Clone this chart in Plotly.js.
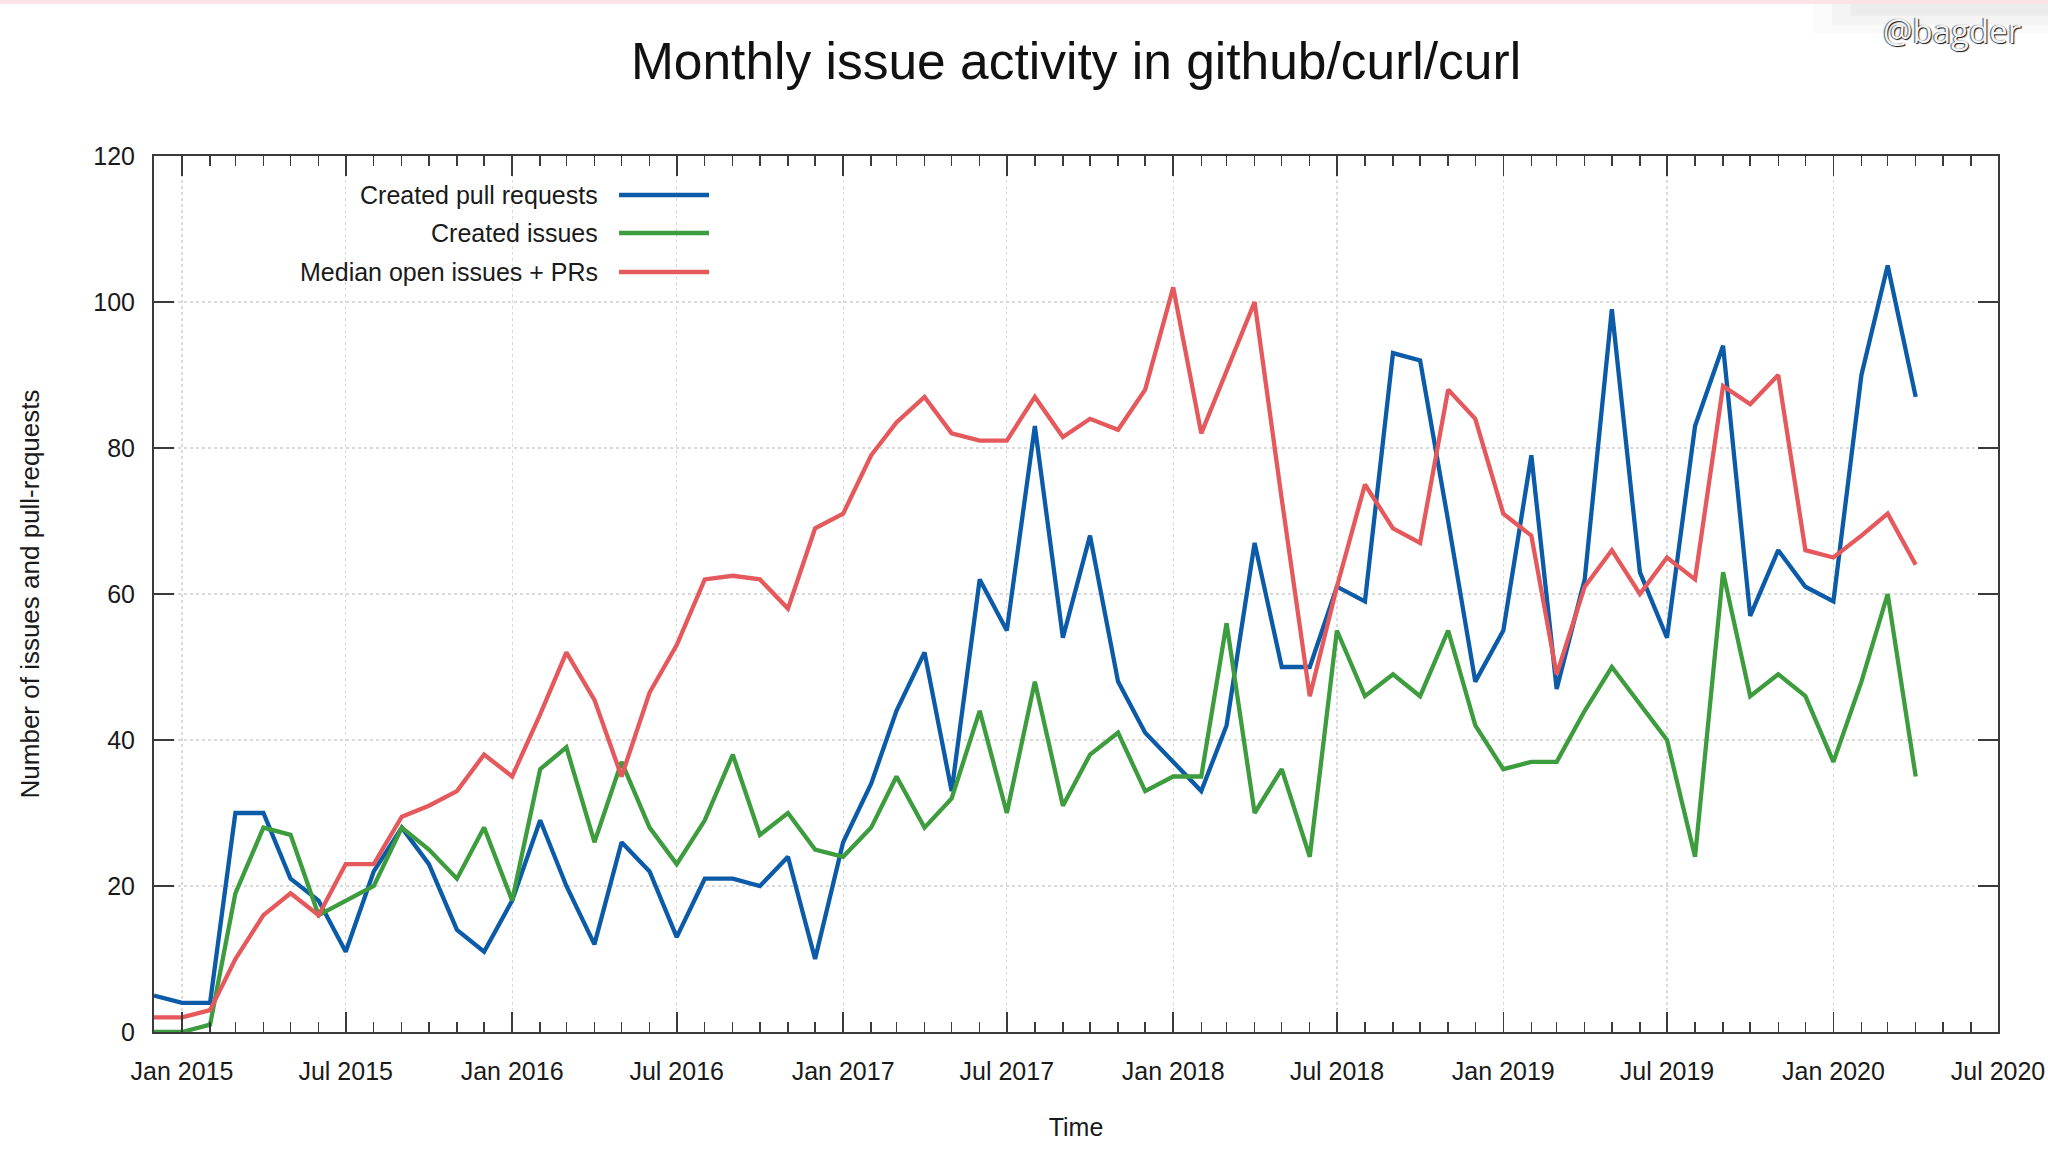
<!DOCTYPE html>
<html>
<head>
<meta charset="utf-8">
<script src="https://cdn.plot.ly/plotly-3.0.1.min.js"></script>
<style>
  html, body { margin: 0; padding: 0; background: #ffffff; }
  #chart { width: 2048px; height: 1152px; }
</style>
</head>
<body>
<div id="chart"></div>
<script>
// Months (first of each month), Dec 2014 .. Apr 2020
const months = [
  '2014-12-01',
  '2015-01-01','2015-02-01','2015-03-01','2015-04-01','2015-05-01','2015-06-01',
  '2015-07-01','2015-08-01','2015-09-01','2015-10-01','2015-11-01','2015-12-01',
  '2016-01-01','2016-02-01','2016-03-01','2016-04-01','2016-05-01','2016-06-01',
  '2016-07-01','2016-08-01','2016-09-01','2016-10-01','2016-11-01','2016-12-01',
  '2017-01-01','2017-02-01','2017-03-01','2017-04-01','2017-05-01','2017-06-01',
  '2017-07-01','2017-08-01','2017-09-01','2017-10-01','2017-11-01','2017-12-01',
  '2018-01-01','2018-02-01','2018-03-01','2018-04-01','2018-05-01','2018-06-01',
  '2018-07-01','2018-08-01','2018-09-01','2018-10-01','2018-11-01','2018-12-01',
  '2019-01-01','2019-02-01','2019-03-01','2019-04-01','2019-05-01','2019-06-01',
  '2019-07-01','2019-08-01','2019-09-01','2019-10-01','2019-11-01','2019-12-01',
  '2020-01-01','2020-02-01','2020-03-01','2020-04-01'
];

const createdPRs = [
  5,
  4, 4, 30, 30, 21, 18, 11, 22, 28, 23, 14, 11,
  18, 29, 20, 12, 26, 22, 13, 21, 21, 20, 24, 10,
  26, 34, 44, 52, 33, 62, 55, 83, 54, 68, 48, 41,
  37, 33, 42, 67, 50, 50, 61, 59, 93, 92, 70, 48,
  55, 79, 47, 62, 99, 63, 54, 83, 94, 57, 66, 61,
  59, 90, 105, 87
];

const createdIssues = [
  0,
  0, 1, 19, 28, 27, 16, 18, 20, 28, 25, 21, 28,
  18, 36, 39, 26, 37, 28, 23, 29, 38, 27, 30, 25,
  24, 28, 35, 28, 32, 44, 30, 48, 31, 38, 41, 33,
  35, 35, 56, 30, 36, 24, 55, 46, 49, 46, 55, 42,
  36, 37, 37, 44, 50, 45, 40, 24, 63, 46, 49, 46,
  37, 48, 60, 35
];

const medianOpen = [
  2,
  2, 3, 10, 16, 19, 16, 23, 23, 29.5, 31, 33, 38,
  35, 43.5, 52, 45.5, 35, 46.5, 53, 62, 62.5, 62, 58, 69,
  71, 79, 83.5, 87, 82, 81, 81, 87, 81.5, 84, 82.5, 88,
  102, 82, 90.5, 100, 73, 46, 61, 75, 69, 67, 88, 84,
  71, 68, 49, 61, 66, 60, 65, 62, 88.5, 86, 90, 66,
  65, 68, 71, 64
];

const seriesNames = ['Created pull requests', 'Created issues', 'Median open issues + PRs'];
const seriesColors = ['#0b5ba8', '#3d9c3d', '#e5595c'];
const seriesData = [createdPRs, createdIssues, medianOpen];

const FONT = 'Liberation Sans, Arial, Helvetica, sans-serif';
const AXC = '#3a3a3a';

const traces = seriesData.map((vals, i) => ({
  type: 'scatter',
  mode: 'lines',
  x: months,
  y: vals,
  name: seriesNames[i],
  line: { color: seriesColors[i], width: 4.3 },
  showlegend: false,
  cliponaxis: true
}));

// Manual gnuplot-style key (text right, sample line to the right of it)
const keyTextX = 0.2419, keyLineX0 = 0.2522, keyLineX1 = 0.3010;
const keyY = [0.9555, 0.9121, 0.8676];
const annotations = seriesNames.map((n, i) => ({
  xref: 'paper', yref: 'paper', x: keyTextX, y: keyY[i],
  xanchor: 'right', yanchor: 'middle', showarrow: false,
  text: n, font: { family: FONT, size: 25, color: '#1a1a1a' }
}));
annotations.push({
  xref: 'paper', yref: 'paper', x: 1.0135, y: 1.1427,
  xanchor: 'right', yanchor: 'middle', showarrow: false,
  text: '@bagder',
  font: { family: 'Open Sans, Lato, sans-serif', size: 33, color: '#f4f4f4',
          shadow: '1px 1px 1px #111111, -1px 0px 1px #555555' }
});

const shapes = seriesNames.map((n, i) => ({
  type: 'line', xref: 'paper', yref: 'paper',
  x0: keyLineX0, x1: keyLineX1, y0: keyY[i], y1: keyY[i],
  line: { color: seriesColors[i], width: 4.3 }
}));
// thin pale pink strip at the very top and soft grey band behind watermark
shapes.push({ type: 'rect', xref: 'paper', yref: 'paper', x0: -0.09, x1: 1.03, y0: 1.1735, y1: 1.18,
  fillcolor: '#fbe3e8', line: { width: 0 }, layer: 'below' });
shapes.push({ type: 'rect', xref: 'paper', yref: 'paper', x0: 0.900, x1: 1.03, y0: 1.140, y1: 1.1735,
  fillcolor: 'rgba(0,0,0,0.018)', line: { width: 0 }, layer: 'below' });
shapes.push({ type: 'rect', xref: 'paper', yref: 'paper', x0: 0.910, x1: 1.03, y0: 1.150, y1: 1.1735,
  fillcolor: 'rgba(0,0,0,0.025)', line: { width: 0 }, layer: 'below' });
shapes.push({ type: 'rect', xref: 'paper', yref: 'paper', x0: 0.920, x1: 1.03, y0: 1.160, y1: 1.1735,
  fillcolor: 'rgba(0,0,0,0.03)', line: { width: 0 }, layer: 'below' });

const layout = {
  width: 2048,
  height: 1152,
  paper_bgcolor: '#ffffff',
  plot_bgcolor: '#ffffff',
  margin: { l: 154, r: 50, t: 156, b: 120, pad: 0 },
  font: { family: FONT, size: 25, color: '#1a1a1a' },
  title: {
    text: 'Monthly issue activity in github/curl/curl',
    font: { family: FONT, size: 51.5, color: '#111111' },
    xref: 'paper', x: 0.5, xanchor: 'center',
    yref: 'container', y: 0.947, yanchor: 'middle'
  },
  xaxis: {
    type: 'date',
    range: ['2014-12-01', '2020-07-01'],
    tick0: '2015-01-01',
    dtick: 'M6',
    tickformat: '%b %Y',
    ticks: 'inside',
    ticklen: 20,
    tickwidth: 1.6,
    tickcolor: AXC,
    ticklabelstandoff: 16,
    tickfont: { family: FONT, size: 25, color: '#1a1a1a' },
    showline: true,
    linecolor: AXC,
    linewidth: 2,
    mirror: 'allticks',
    showgrid: true,
    gridcolor: '#dadada',
    gridwidth: 1.2,
    griddash: 'dot',
    zeroline: false,
    minor: {
      dtick: 'M1',
      tick0: '2015-01-01',
      ticks: 'inside',
      ticklen: 10,
      tickwidth: 1.4,
      tickcolor: AXC,
      showgrid: false
    },
    title: {
      text: 'Time',
      font: { family: FONT, size: 25, color: '#1a1a1a' },
      standoff: 34
    }
  },
  yaxis: {
    range: [0, 120],
    dtick: 20,
    tick0: 0,
    ticks: 'inside',
    ticklen: 20,
    tickwidth: 1.6,
    tickcolor: AXC,
    ticklabelstandoff: 12,
    tickfont: { family: FONT, size: 25, color: '#1a1a1a' },
    showline: true,
    linecolor: AXC,
    linewidth: 2,
    mirror: 'allticks',
    showgrid: true,
    gridcolor: '#dadada',
    gridwidth: 1.2,
    griddash: 'dot',
    zeroline: false,
    title: {
      text: 'Number of issues and pull-requests',
      font: { family: FONT, size: 26, color: '#1a1a1a' },
      standoff: 46
    }
  },
  annotations: annotations,
  shapes: shapes,
  showlegend: false
};

Plotly.newPlot('chart', traces, layout, { staticPlot: true, displayModeBar: false });
</script>
</body>
</html>
